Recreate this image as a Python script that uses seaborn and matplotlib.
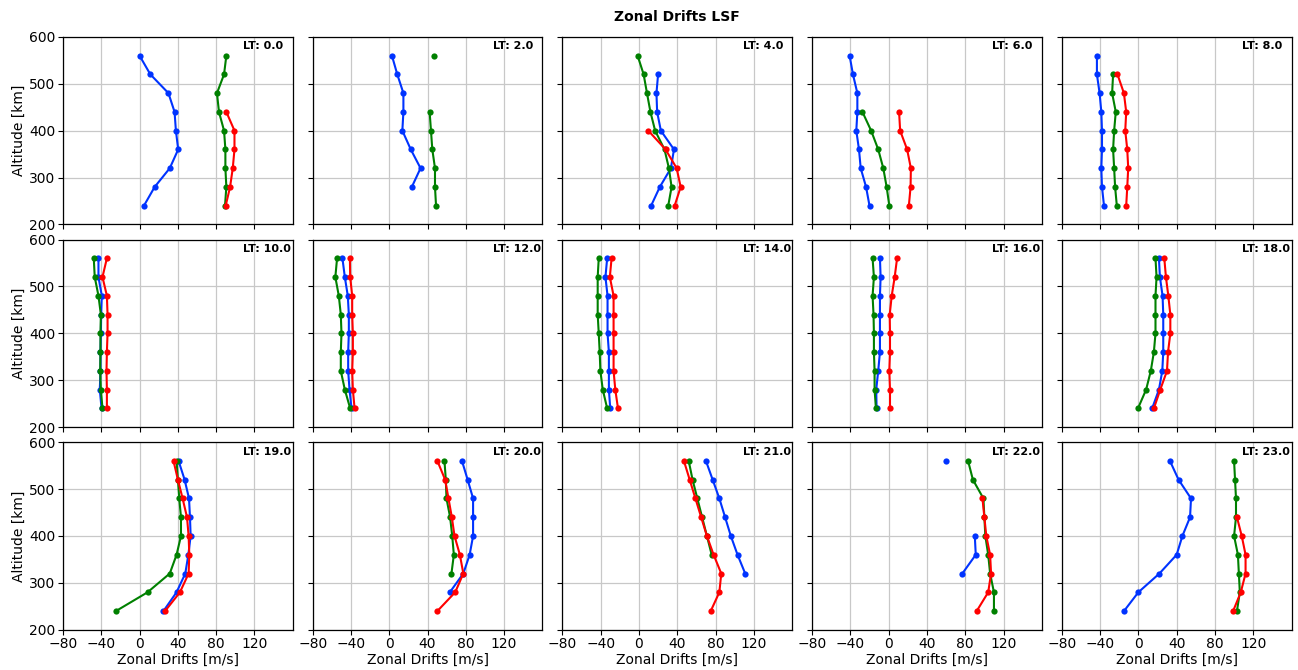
import numpy as np
import pandas as pd
import matplotlib
matplotlib.use("Agg")
import matplotlib.pyplot as plt
import seaborn as sns

nan = np.nan
altitudes = [560, 520, 480, 440, 400, 360, 320, 280, 240]
local_times = [0.0, 2.0, 4.0, 6.0, 8.0, 10.0, 12.0, 14.0, 16.0, 18.0, 19.0, 20.0, 21.0, 22.0, 23.0]

blue_drifts = [
    [0, 11.3, 30.2, 36.6, 38, 40.4, 31.6, 15.8, 4.6],
    [2.8, 8.4, 14.8, 14.8, 13.7, 22.5, 32.7, 23.6, nan],
    [nan, 20, 18.3, 19, 22.9, 36.6, 33.4, 21.8, 12.7],
    [-40.8, -37.3, -32.7, -32.7, -33.8, -31, -29.2, -23.6, -20],
    [-43.3, -43.3, -40.5, -38.7, -38, -38, -38.7, -38, -35.9],
    [-42.9, -42.9, -39.4, -40.1, -40.4, -40.8, -40.8, -41.5, -39.7],
    [-48.9, -46.4, -43.3, -42.2, -42.2, -42.9, -42.9, -41.5, -39.4],
    [-33.2, -35, -32.8, -32.8, -32.8, -31.4, -31.4, -31.4, -30],
    [-9.1, -8.4, -9.1, -9.1, -9.1, -9.1, -10.9, -13, -12.6],
    [21.5, 22.5, 25.3, 26, 26, 26, 25, 21.5, 14.4],
    [40.8, 47.1, 51.7, 52.7, 53.4, 51, 47.8, 38.7, 25],
    [76, 81.9, 87.6, 87.6, 87.6, 84, 77.4, 63.3, nan],
    [70, 77, 84, 90, 96, 103, 111, nan, nan],
    [60, nan, nan, nan, 90, 91, 77, nan, nan],
    [33, 42, 55, 54, 46, 40, 22, 0, -15],
]
green_drifts = [
    [90.7, 88.3, 80.9, 83, 88.3, 89.7, 89.7, 90.7, 89.3],
    [46.8, nan, nan, 42.2, 43.6, 45, 47.8, 47.8, 48.9],
    [-1.4, 4.9, 8.4, 12, 16.9, 26.7, 31.3, 34.1, 30.6],
    [nan, nan, nan, -27.4, -18.3, -10.9, -5.6, -2.1, 0.7],
    [nan, -26.4, -27.4, -23.6, -25.3, -26.4, -25.3, -24.3, -22.5],
    [-47.8, -46.8, -42.9, -40.4, -40.8, -40.8, -41.1, -40.4, -38.7],
    [-54.5, -56.3, -52.7, -50.6, -49.9, -50.6, -50.6, -46.4, -40.8],
    [-42, -43.1, -43.1, -43.1, -42, -41, -40.3, -37.8, -33.2],
    [-16.8, -15.4, -16.8, -15.8, -15.4, -15.4, -14.7, -14.7, -13.3],
    [17.9, 19, 17.9, 17.9, 17.9, 16.2, 13, 8.1, -0.4],
    [38.7, 40.1, 41.5, 43.3, 43.3, 38.7, 31.6, 8.4, -24.6],
    [57.7, 59.1, 59.8, 63.6, 65.8, 67.5, 65, nan, nan],
    [52, 56, 61, 66, 71, 76, nan, nan, nan],
    [83, 88, 99, 100, 101, 104, 106, 110, 110],
    [100, 101, 102, 102, 100, 104, 105, 106, 103],
]
red_drifts = [
    [nan, nan, nan, 90.7, 99.2, 99.2, 97.4, 94.6, 90],
    [nan, nan, nan, nan, nan, nan, nan, nan, nan],
    [nan, nan, nan, nan, 9.8, 27.8, 39.4, 43.6, 37.3],
    [nan, nan, nan, 10.9, 12, 19.3, 23.2, 22.9, 21.1],
    [nan, -21.8, -15.1, -12.7, -13.7, -11.6, -10.6, -11.6, -12.7],
    [-34.1, -38.7, -34.1, -33.4, -33.4, -34.1, -34.5, -34.1, -34.1],
    [-41.1, -40.8, -38.7, -38.7, -38, -38, -38.7, -38, -36.2],
    [-28.6, -30.4, -26.5, -26.5, -26.5, -26.5, -26.5, -24.7, -21.9],
    [8.8, 6.3, 3.2, 1.1, 1.4, 1.4, 0.7, 1.4, 1.4],
    [27.1, 28.8, 31.3, 33.4, 33.4, 31, 29.9, 22.9, 16.2],
    [35.5, 40.1, 45, 49.6, 51.3, 52, 51.3, 42.2, 26.7],
    [50.3, 58.4, 61.9, 65.4, 68.2, 73.8, 77.4, 68.9, 50.3],
    [47, 53, 59, 65, 71, 78, 86, 84, 75],
    [nan, nan, 98, 100, 102, 106, 107, 104, 92],
    [nan, nan, nan, 103, 108, 112, 112, 107, 99],
]
series_colors = {"blue": "#0033ff", "green": "green", "red": "red"}
x_ticks = [-80, -40, 0, 40, 80, 120]
y_ticks = [200, 300, 400, 500, 600]


def segments(values, alts):
    rows = []
    seg = 0
    prev_nan = True
    for v, a in zip(values, alts):
        if np.isnan(v):
            prev_nan = True
            continue
        if prev_nan:
            seg += 1
        prev_nan = False
        rows.append({"drift": v, "alt": a, "seg": seg})
    return pd.DataFrame(rows, columns=["drift", "alt", "seg"])


fig, axes = plt.subplots(3, 5, figsize=(12.98, 6.70), dpi=100, sharex=True, sharey=True)
left, right, top, bottom = 0.0485, 0.995, 0.945, 0.06
fig.subplots_adjust(left=left, right=right, top=top, bottom=bottom, wspace=0.087, hspace=0.08)

for i, lt in enumerate(local_times):
    ax = axes.flat[i]
    for name, data in (("blue", blue_drifts), ("green", green_drifts), ("red", red_drifts)):
        df = segments(data[i], altitudes)
        if len(df) == 0:
            continue
        sns.lineplot(data=df, x="drift", y="alt", units="seg", estimator=None, sort=False,
                     color=series_colors[name], marker="o", markersize=4.5, markeredgewidth=0,
                     linewidth=1.5, ax=ax, legend=False)
    ax.set_xlim(-80, 160)
    ax.set_ylim(200, 600)
    ax.set_xticks(x_ticks)
    ax.set_yticks(y_ticks)
    ax.grid(True, color="#c8c8c8", linewidth=0.9)
    ax.set_axisbelow(True)
    ax.tick_params(labelsize=10, pad=2)
    for s in ax.spines.values():
        s.set_color("black")
        s.set_linewidth(0.9)
    ax.text(0.785, 0.95, f"LT: {lt}", transform=ax.transAxes, ha="left", va="center",
            fontsize=8, fontweight="bold")
    ax.set_xlabel("Zonal Drifts [m/s]" if i >= 10 else "", fontsize=10, labelpad=1)
    ax.set_ylabel("Altitude [km]" if i % 5 == 0 else "", fontsize=10, labelpad=2)

fig.suptitle("Zonal Drifts LSF", fontsize=10, fontweight="bold", x=(left + right) / 2, y=0.985)
fig.savefig("out.png", dpi=100)
